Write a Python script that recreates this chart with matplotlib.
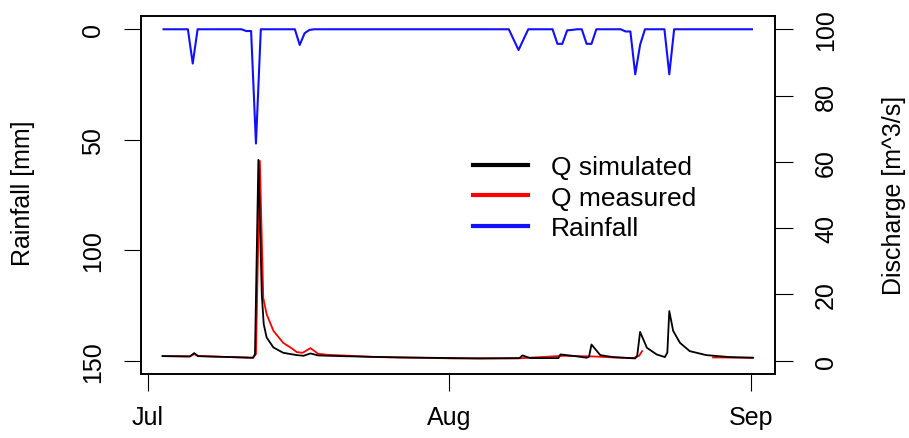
import numpy as np
import pandas as pd
import matplotlib
matplotlib.use("Agg")
import matplotlib.pyplot as plt

plt.rcParams['font.family'] = ['Liberation Sans', 'DejaVu Sans']

start = pd.Timestamp('2000-07-01')

# rainfall, days after 1 Jul -> mm (polyline vertices, zero between events)
rain_day = [1.6, 4.1, 4.6, 5.1, 9.6, 10.1, 10.6, 11.1, 11.6,
            15.1, 15.6, 16.1, 16.6, 17.1,
            37.1, 37.6, 38.1, 38.6, 39.1,
            41.6, 42.1, 42.6, 43.1, 43.6, 44.1,
            44.6, 45.1, 45.6, 46.1,
            48.6, 49.1, 49.6, 50.1, 50.6, 51.1,
            53.1, 53.6, 54.1, 62.1]
rain_mm = [0, 0, 15.5, 0, 0, 0.8, 0.8, 51.7, 0,
           0, 7.1, 1.8, 0.3, 0,
           0, 4.7, 9.4, 4.7, 0,
           0, 6.6, 6.6, 0.5, 0.3, 0,
           0, 6.6, 6.6, 0,
           0, 1.0, 1.0, 20.4, 7.0, 0,
           0, 20.4, 0, 0]

# simulated discharge [m^3/s]
sim_day = [1.5, 4.3, 4.75, 5.15, 7.4, 10.8, 11.0, 11.35, 11.7, 11.9, 12.2, 12.9, 13.9,
           15.3, 16.0, 16.7, 17.5, 19.7, 25.9, 34.1, 38.2, 38.5, 39.3,
           42.2, 42.4, 43.9, 45.1, 45.35, 45.6, 46.5, 47.8,
           50.1, 50.3, 50.6, 51.3, 52.3, 53.15, 53.4, 53.6, 54.0, 54.7,
           55.7, 57.4, 59.8, 62.2]
sim_q = [1.4, 1.3, 2.3, 1.4, 1.2, 0.9, 2.0, 60.6, 20, 11, 7, 4.0, 2.4,
         1.7, 1.5, 2.2, 1.6, 1.4, 1.0, 0.7, 0.8, 1.6, 0.8,
         0.8, 1.9, 1.4, 0.9, 1.2, 4.9, 1.7, 1.1,
         0.7, 1.5, 8.7, 3.9, 1.9, 1.1, 2.5, 15, 9, 5.4,
         2.9, 1.7, 1.1, 0.9]

# measured discharge (nan = missing)
obs_day = [1.5, 4.3, 4.75, 5.15, 7.4, 10.8, 11.1, 11.5, 11.85, 12.2, 12.9, 13.9,
           14.8, 15.3, 15.9, 16.7, 17.5, 18.4, 20.0, 23.4, 28.0, 31.4, 38.0,
           42.7, 45.6, 46.5, 47.8, 49.9, 50.5, 50.8, 50.85, 58.1, 62.2]
obs_q = [1.4, 1.3, 2.0, 1.4, 1.2, 0.9, 2.0, 60.3, 19, 14, 9, 5.4,
         3.7, 2.6, 2.4, 3.8, 2.1, 1.8, 1.6, 1.1, 0.9, 0.7, 0.7,
         1.5, 1.3, 1.2, 1.0, 0.8, 1.5, 2.9, np.nan, 1.0, 0.9]

month_ticks = ['2000-07-01', '2000-08-01', '2000-09-01']
month_labels = ['Jul', 'Aug', 'Sep']
rain_ticks = [0, 50, 100, 150]
q_ticks = [0, 20, 40, 60, 80, 100]


def to_dates(days):
    return start + pd.to_timedelta(np.asarray(days, dtype=float), unit='D')


W, H = 909, 439
fig = plt.figure(figsize=(W / 100, H / 100), dpi=100)
ax = fig.add_axes([141 / W, 1 - 375 / H, (775 - 141) / W, (375 - 17) / H])
ax2 = ax.twinx()

l_rain, = ax.plot(to_dates(rain_day), rain_mm, color='#1010ff', lw=1.5)
l_obs, = ax2.plot(to_dates(obs_day), obs_q, color='#ff0000', lw=1.3)
l_sim, = ax2.plot(to_dates(sim_day), sim_q, color='black', lw=1.3)

ax.set_xlim(start - pd.Timedelta(days=0.72), start + pd.Timedelta(days=64.47))
ax.set_ylim(156, -6)
ax2.set_ylim(-4, 104)

ax.set_xticks(pd.to_datetime(month_ticks))
ax.set_xticklabels(month_labels)
ax.set_yticks(rain_ticks)
ax2.set_yticks(q_ticks)

fs = 18
ax.tick_params(axis='x', direction='out', length=12, width=0.8, pad=10, labelsize=fs)
ax.tick_params(axis='y', direction='out', length=12, width=0.8, pad=14,
               labelsize=fs, labelrotation=90)
ax2.tick_params(axis='y', direction='out', length=13, width=0.8, pad=15,
                labelsize=fs, labelrotation=90)
for lab in ax.get_yticklabels() + ax2.get_yticklabels():
    lab.set_verticalalignment('center')

for sp in ax.spines.values():
    sp.set_linewidth(1.2)
for sp in ax2.spines.values():
    sp.set_linewidth(1.2)

fig.text(23 / W, 1 - 193 / H, 'Rainfall [mm]', rotation=90, ha='center',
         va='center', fontsize=fs)
fig.text(894 / W, 1 - 195 / H, 'Discharge [m^3/s]', rotation=90, ha='center',
         va='center', fontsize=fs)

ax2.legend([l_sim, l_obs, l_rain], ['Q simulated', 'Q measured', 'Rainfall'],
           loc='upper left', bbox_to_anchor=(473 / W, 1 - 156 / H),
           bbox_transform=fig.transFigure, frameon=False, fontsize=19,
           handlelength=2.1, handletextpad=0.85, labelspacing=0.25,
           borderpad=0, borderaxespad=0)
for line in ax2.get_legend().get_lines():
    line.set_linewidth(3)

fig.savefig('out.png', dpi=100)
